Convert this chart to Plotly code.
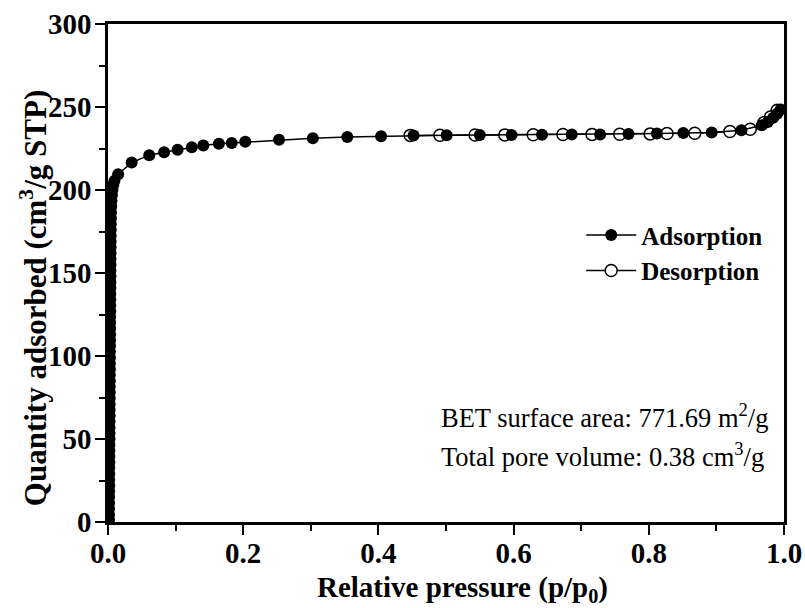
import plotly.graph_objects as go

# ---- data ----
ads_x = [0.0015, 0.0015, 0.0016, 0.0016, 0.0017, 0.0017, 0.0018, 0.0018, 0.0019, 0.0019,
         0.0020, 0.0020, 0.0021, 0.0021, 0.0022, 0.0022, 0.0023, 0.0023, 0.0024, 0.0024,
         0.0025, 0.0025, 0.0026, 0.0026, 0.0027, 0.0027, 0.0028, 0.0028, 0.0029, 0.0029,
         0.0030, 0.0030, 0.0031, 0.0031, 0.0032, 0.0032, 0.0033, 0.0033, 0.0034, 0.0034,
         0.0035, 0.0035, 0.0036, 0.0036, 0.0037, 0.0037, 0.0038, 0.0038, 0.0039, 0.0040,
         0.0041, 0.0042, 0.0043, 0.0045, 0.0048, 0.0052, 0.0058, 0.0066, 0.0078, 0.0095,
         0.0150, 0.035, 0.061, 0.083, 0.103, 0.124, 0.141, 0.164, 0.183, 0.203,
         0.253, 0.303, 0.354, 0.404, 0.452, 0.501, 0.550, 0.597, 0.642, 0.686,
         0.728, 0.770, 0.812, 0.851, 0.893, 0.937, 0.967, 0.976, 0.984, 0.990, 0.995]
ads_y = [1.5, 4.5, 8.0, 11.5, 15.0, 18.5, 22.0, 25.5, 29.0, 32.5,
         36.0, 39.5, 43.0, 46.5, 50.0, 53.5, 57.0, 60.5, 64.0, 67.5,
         71.0, 74.5, 78.0, 81.5, 85.0, 88.5, 92.0, 95.5, 99.0, 102.5,
         106.0, 109.5, 113.0, 116.5, 120.0, 123.5, 127.0, 130.5, 134.0, 137.5,
         141.0, 144.5, 148.0, 151.5, 155.0, 158.5, 162.0, 165.5, 169.0, 172.5,
         176.0, 179.5, 183.0, 186.5, 190.0, 193.5, 197.0, 200.0, 203.0, 205.5,
         209.5, 216.5, 221.0, 222.8, 224.3, 225.8, 226.8, 227.8, 228.3, 229.0,
         230.3, 231.2, 231.9, 232.4, 232.8, 233.0, 233.1, 233.2, 233.3, 233.4,
         233.5, 233.7, 234.0, 234.3, 234.6, 236.0, 239.0, 241.0, 243.5, 246.0, 248.5]

des_x = [0.990, 0.980, 0.970, 0.950, 0.920, 0.868, 0.827, 0.802, 0.757,
         0.716, 0.673, 0.629, 0.587, 0.543, 0.491, 0.447]
des_y = [248.0, 244.0, 240.5, 236.6, 235.2, 234.2, 234.0, 233.8, 233.6,
         233.5, 233.4, 233.3, 233.2, 233.1, 233.0, 232.9]

x_ticks = [0.0, 0.2, 0.4, 0.6, 0.8, 1.0]
x_tick_text = ["0.0", "0.2", "0.4", "0.6", "0.8", "1.0"]
y_ticks = [0, 50, 100, 150, 200, 250, 300]

SERIF = "Times New Roman, Liberation Serif, serif"

fig = go.Figure()
fig.add_trace(go.Scatter(
    x=des_x, y=des_y, mode="lines+markers", name="Desorption",
    line=dict(color="black", width=1.5),
    marker=dict(symbol="circle", size=12, color="white",
                line=dict(color="black", width=1.5)),
    legendrank=2))
fig.add_trace(go.Scatter(
    x=ads_x, y=ads_y, mode="lines+markers", name="Adsorption",
    line=dict(color="black", width=1.5),
    marker=dict(symbol="circle", size=12, color="black",
                line=dict(color="black", width=0)),
    legendrank=1))

axis_common = dict(
    showline=True, linecolor="black", linewidth=2.5, mirror=True,
    ticks="outside", ticklen=10, tickwidth=2, tickcolor="black",
    showgrid=False, zeroline=False, automargin=False,
    tickfont=dict(family=SERIF, size=29, color="black", weight="bold"),
)
fig.update_xaxes(
    range=[0, 1.0], tickvals=x_ticks, ticktext=x_tick_text,
    ticklabelstandoff=-7,
    minor=dict(dtick=0.1, ticks="outside", ticklen=6, tickwidth=2, tickcolor="black"),
    **axis_common)
fig.update_yaxes(
    range=[0, 300], tickvals=y_ticks,
    ticklabelstandoff=-2,
    minor=dict(dtick=25, ticks="outside", ticklen=6, tickwidth=2, tickcolor="black"),
    **axis_common)

fig.add_annotation(
    text="Relative pressure (p/p<sub>0</sub>)", xref="paper", yref="paper",
    x=0.524, y=-0.134, xanchor="center", yanchor="middle", showarrow=False,
    font=dict(family=SERIF, size=29, color="black", weight="bold"))
fig.add_annotation(
    text="Quantity adsorbed (cm<sup>3</sup>/g STP)", xref="paper", yref="paper",
    x=-0.109, y=0.45, xanchor="center", yanchor="middle", showarrow=False,
    textangle=-90,
    font=dict(family=SERIF, size=31, color="black", weight="bold"))
fig.add_annotation(
    text="BET surface area: 771.69 m<sup>2</sup>/g", xref="paper", yref="paper",
    x=0.490, y=0.213, xanchor="left", yanchor="middle", showarrow=False,
    font=dict(family=SERIF, size=26.5, color="black"))
fig.add_annotation(
    text="Total pore volume: 0.38 cm<sup>3</sup>/g", xref="paper", yref="paper",
    x=0.490, y=0.135, xanchor="left", yanchor="middle", showarrow=False,
    font=dict(family=SERIF, size=26.5, color="black"))

fig.update_layout(
    width=805, height=608,
    margin=dict(l=108, r=21, t=24, b=86),
    paper_bgcolor="white", plot_bgcolor="white",
    showlegend=True,
    legend=dict(x=0.70, y=0.622, xanchor="left", yanchor="top",
                bgcolor="rgba(0,0,0,0)", borderwidth=0,
                font=dict(family=SERIF, size=25, color="black", weight="bold"),
                tracegroupgap=0, itemwidth=50),
)

fig.write_html("out.html")
